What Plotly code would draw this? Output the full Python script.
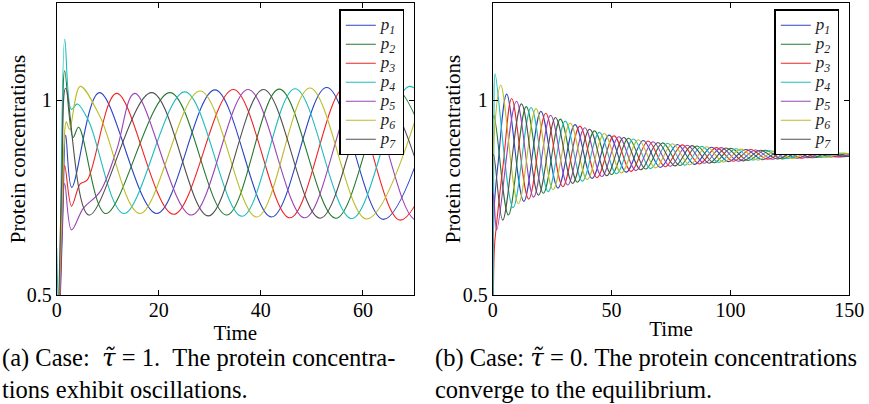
import plotly.graph_objects as go

# ---------------- data ----------------
names = ["p1", "p2", "p3", "p4", "p5", "p6", "p7"]
legend_subs = ["1", "2", "3", "4", "5", "6", "7"]
colors = ["#2a44c4", "#237a2e", "#f02424", "#1fbcbc", "#9a44b4", "#bcbc2a", "#505050"]

# Panel (a): tau = 1, key points (start, extrema, shoulders)
a_t1 = [0, 1.2, 1.76, 2.95, 8.35, 19.6, 31.0, 42.1, 52.9, 64.0, 75.2]
a_v1 = [0.2, 0.70, 0.910, 0.776, 1.019, 0.709, 1.026, 0.700, 1.032, 0.694, 1.036]
a_t2 = [0, 1.0, 1.57, 3.2, 4.3, 9.6, 22.2, 33.3, 43.6, 54.7, 65.9, 77.0]
a_v2 = [0.2, 0.75, 1.075, 0.904, 0.930, 0.709, 1.019, 0.705, 1.028, 0.697, 1.034, 0.692]
a_t3 = [0, 1.0, 1.57, 2.9, 4.6, 6.0, 11.75, 22.9, 34.6, 45.7, 56.5, 67.3, 78.5]
a_v3 = [0.2, 0.65, 0.832, 0.728, 0.785, 0.795, 1.017, 0.707, 1.027, 0.698, 1.032, 0.692, 1.036]
a_t4 = [0, 0.45, 1.57, 2.88, 4.05, 6.3, 13.2, 25.1, 36.3, 46.7, 57.8, 69.2, 80.0]
a_v4 = [0.62, 0.45, 1.156, 0.976, 0.990, 0.945, 0.709, 1.021, 0.702, 1.029, 0.696, 1.035, 0.692]
a_t5 = [0, 1.0, 1.57, 2.9, 5.2, 8.5, 11.75, 15.3, 26.4, 37.5, 48.6, 59.5, 70.5, 81.5]
a_v5 = [0.2, 0.65, 0.786, 0.667, 0.722, 0.765, 0.872, 1.017, 0.705, 1.027, 0.698, 1.033, 0.692, 1.036]
a_t6 = [0, 1.0, 1.9, 2.5, 4.6, 8.5, 16.3, 28.1, 39.2, 49.6, 60.7, 72.3]
a_v6 = [0.2, 0.70, 0.944, 0.925, 1.035, 0.957, 0.709, 1.023, 0.700, 1.031, 0.695, 1.036]
a_t7 = [0, 1.0, 1.76, 6.3, 18.6, 29.7, 40.5, 51.6, 62.8, 73.9]
a_v7 = [0.2, 0.80, 1.030, 0.705, 1.019, 0.703, 1.027, 0.697, 1.033, 0.692]

# Panel (b): tau = 0, key points (start, extrema)
b_t1 = [0, 0.6, 2.3, 5.9, 13.08, 20.25, 27.43, 34.6, 41.78, 48.95, 56.13, 63.3, 70.48, 77.65,
        84.83, 92.0, 99.18, 106.35, 113.53, 120.7, 127.88, 135.05, 142.23, 149.4, 156.58]
b_v1 = [0.2, 0.72, 0.84, 1.015, 0.740, 0.971, 0.774, 0.937, 0.799, 0.910, 0.815, 0.896, 0.827, 0.886,
        0.835, 0.879, 0.842, 0.873, 0.847, 0.869, 0.851, 0.866, 0.854, 0.863, 0.856]
b_t2 = [0, 0.5, 6.6, 14.1, 21.28, 28.45, 35.63, 42.8, 49.98, 57.15, 64.33, 71.5, 78.68, 85.85,
        93.03, 100.2, 107.38, 114.55, 121.73, 128.9, 136.08, 143.25, 150.43, 157.6]
b_v2 = [0.2, 0.96, 0.705, 0.983, 0.761, 0.951, 0.789, 0.921, 0.809, 0.902, 0.823, 0.890, 0.832, 0.882,
        0.839, 0.876, 0.845, 0.871, 0.849, 0.867, 0.853, 0.864, 0.855, 0.862]
b_t3 = [0, 0.7, 1.5, 4.5, 8.0, 15.15, 22.3, 29.48, 36.65, 43.83, 51.0, 58.18, 65.35, 72.53, 79.7,
        86.88, 94.05, 101.23, 108.4, 115.58, 122.75, 129.93, 137.1, 144.28, 151.45]
b_v3 = [0.2, 0.62, 0.675, 0.84, 1.004, 0.746, 0.966, 0.778, 0.933, 0.801, 0.908, 0.817, 0.895, 0.829, 0.885,
        0.836, 0.878, 0.843, 0.873, 0.848, 0.868, 0.851, 0.865, 0.854, 0.863]
b_t4 = [0, 0.5, 1.0, 8.58, 16.15, 23.33, 30.5, 37.68, 44.85, 52.03, 59.2, 66.38, 73.55, 80.73,
        87.9, 95.08, 102.25, 109.43, 116.6, 123.78, 130.95, 138.13, 145.3, 152.48]
b_v4 = [0.2, 0.95, 1.067, 0.724, 0.981, 0.765, 0.946, 0.792, 0.917, 0.811, 0.900, 0.824, 0.889, 0.833,
        0.881, 0.840, 0.875, 0.846, 0.870, 0.850, 0.866, 0.853, 0.864, 0.855]
b_t5 = [0, 0.4, 1.7, 10.0, 17.18, 24.35, 31.53, 38.7, 45.88, 53.05, 60.23, 67.4, 74.58, 81.75,
        88.93, 96.1, 103.28, 110.45, 117.63, 124.8, 131.98, 139.15, 146.33, 153.5]
b_v5 = [0.2, 0.76, 0.667, 0.997, 0.751, 0.961, 0.782, 0.929, 0.804, 0.906, 0.819, 0.893, 0.830, 0.884,
        0.838, 0.878, 0.843, 0.872, 0.848, 0.868, 0.852, 0.865, 0.854, 0.863]
b_t6 = [0, 0.5, 3.4, 10.8, 18.2, 25.38, 32.55, 39.73, 46.9, 54.08, 61.25, 68.43, 75.6, 82.78,
        89.95, 97.13, 104.3, 111.48, 118.65, 125.83, 133.0, 140.18, 147.35, 154.53]
b_v6 = [0.2, 0.90, 1.038, 0.734, 0.978, 0.770, 0.941, 0.796, 0.914, 0.813, 0.898, 0.826, 0.888, 0.834,
        0.880, 0.841, 0.874, 0.846, 0.869, 0.850, 0.866, 0.853, 0.864, 0.855]
b_t7 = [0, 0.35, 4.2, 12.1, 19.25, 26.4, 33.58, 40.75, 47.93, 55.1, 62.28, 69.45, 76.63, 83.8,
        90.98, 98.15, 105.33, 112.5, 119.68, 126.85, 134.03, 141.2, 148.38, 155.55]
b_v7 = [0.2, 0.86, 0.692, 0.990, 0.756, 0.955, 0.786, 0.925, 0.806, 0.904, 0.821, 0.891, 0.831, 0.883,
        0.838, 0.877, 0.844, 0.871, 0.849, 0.867, 0.852, 0.864, 0.855, 0.863]

a_times = [a_t1, a_t2, a_t3, a_t4, a_t5, a_t6, a_t7]
a_vals = [a_v1, a_v2, a_v3, a_v4, a_v5, a_v6, a_v7]
b_times = [b_t1, b_t2, b_t3, b_t4, b_t5, b_t6, b_t7]
b_vals = [b_v1, b_v2, b_v3, b_v4, b_v5, b_v6, b_v7]

a_xticks = [0, 20, 40, 60]
b_xticks = [0, 50, 100, 150]
y_ticks = [0.5, 1]
y_ticktext = ["0.5", "1"]

x_title = "Time"
y_title = "Protein concentrations"
TAU = '<span style="font-family:DejaVu Serif"><i>\u03c4\u0303</i></span>'
cap_a = ["(a) Case:\u00a0\u00a0" + TAU + " = 1.\u00a0\u00a0The protein concentra-",
         "tions exhibit oscillations."]
cap_b = ["(b) Case: " + TAU + " = 0. The protein concentrations",
         "converge to the equilibrium."]

# ---------------- figure ----------------
FONT = "Liberation Serif"
W, H = 869, 404
fig = go.Figure()


def legend_label(sub):
    return '<span style="font-size:17px"><i>p<sub>' + sub + '</sub></i></span>'


for i in range(7):
    fig.add_trace(go.Scatter(x=a_times[i], y=a_vals[i], mode="lines", name=legend_label(legend_subs[i]),
                             line=dict(color=colors[i], width=1.1, shape="spline", smoothing=1),
                             xaxis="x", yaxis="y", legend="legend"))
for i in range(7):
    fig.add_trace(go.Scatter(x=b_times[i], y=b_vals[i], mode="lines", name=legend_label(legend_subs[i]),
                             line=dict(color=colors[i], width=1.1, shape="spline", smoothing=1),
                             xaxis="x2", yaxis="y2", legend="legend2"))

axis_common = dict(showline=True, linecolor="black", linewidth=1, mirror="ticks",
                   ticks="inside", ticklen=5, tickwidth=1, tickcolor="black",
                   showgrid=False, zeroline=False, automargin=False,
                   tickfont=dict(family=FONT, size=20, color="black"))

y_dom = [0.2698, 0.9918]
legend_common = dict(xanchor="left", yanchor="top", bgcolor="white", bordercolor="black",
                     borderwidth=1.5, font=dict(family=FONT, size=12, color="#222222"),
                     tracegroupgap=0)
xtitle = dict(text=x_title, font=dict(family=FONT, size=21), standoff=1)
fig.update_layout(
    width=W, height=H, autosize=False,
    margin=dict(l=0, r=0, t=0, b=0, autoexpand=False),
    paper_bgcolor="white", plot_bgcolor="white",
    font=dict(family=FONT, color="black"),
    xaxis=dict(domain=[0.06525, 0.4764], range=[0, 70], tickvals=a_xticks, anchor="y",
               ticklabelstandoff=-3, title=xtitle, **axis_common),
    yaxis=dict(domain=y_dom, range=[0.5, 1.248], tickvals=y_ticks, ticktext=y_ticktext, anchor="x",
               **axis_common),
    xaxis2=dict(domain=[0.5670, 0.9774], range=[0, 150], tickvals=b_xticks, anchor="y2",
                ticklabelstandoff=-3, title=xtitle, **axis_common),
    yaxis2=dict(domain=y_dom, range=[0.5, 1.248], tickvals=y_ticks, ticktext=y_ticktext, anchor="x2",
                **axis_common),
    legend=dict(x=339.3 / W, y=(H - 9.3) / H, **legend_common),
    legend2=dict(x=774.3 / W, y=(H - 9.3) / H, **legend_common),
    showlegend=True,
)

# y-axis titles
for xc in (18.3, 453.3):
    fig.add_annotation(text=y_title, x=xc / W, y=(H - 149) / H, xref="paper", yref="paper",
                       xanchor="center", yanchor="middle", textangle=-90, showarrow=False,
                       font=dict(family=FONT, size=21, color="black"))

# captions
cap_font = dict(family=FONT, size=24.5, color="black")
for k, (txt_a, txt_b) in enumerate(zip(cap_a, cap_b)):
    yy = (H - (357 + 32 * k)) / H
    fig.add_annotation(text=txt_a, x=0, y=yy, xref="paper", yref="paper", xanchor="left",
                       yanchor="middle", showarrow=False, font=cap_font)
    fig.add_annotation(text=txt_b, x=433 / W, y=yy, xref="paper", yref="paper", xanchor="left",
                       yanchor="middle", showarrow=False, font=cap_font)

fig.write_html("out.html", config={"displayModeBar": False},
               post_script="document.body.style.margin='0px';document.body.style.overflow='hidden';")
